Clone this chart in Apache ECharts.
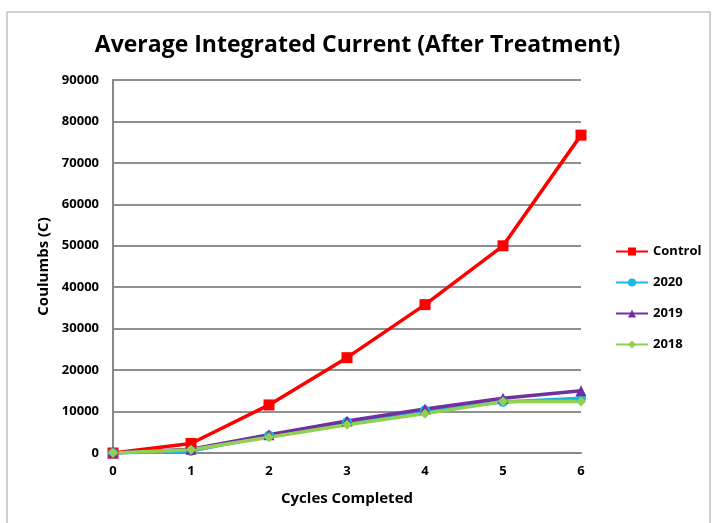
<!DOCTYPE html>
<html>
<head>
<meta charset="utf-8">
<script src="https://cdn.jsdelivr.net/npm/echarts@6/dist/echarts.min.js"></script>
<style>
    html, body { margin: 0; padding: 0; background: #fff; }
    #chart { width: 715px; height: 523px; }
</style>
</head>
<body>
<div id="chart"></div>
<script>
    var cycles = ['0', '1', '2', '3', '4', '5', '6'];
    var control = [0, 2300, 11600, 23000, 35800, 50000, 76700];
    var y2020 = [0, 500, 4200, 7500, 10300, 12300, 13200];
    var y2019 = [0, 900, 4400, 7700, 10600, 13200, 15000];
    var y2018 = [0, 800, 3800, 6800, 9500, 12400, 12400];

    var font = '"Open Sans", sans-serif';

    function line(name, data, color, symbol, size) {
        return {
            name: name,
            type: 'line',
            data: data,
            symbol: symbol,
            symbolSize: size,
            lineStyle: { color: color, width: 3.5 },
            itemStyle: { color: color },
            animation: false
        };
    }

    var chart = echarts.init(document.getElementById('chart'));
    chart.setOption({
        backgroundColor: '#fff',
        graphic: [{
            type: 'rect',
            shape: { x: 7, y: 12, width: 703, height: 520 },
            style: { fill: 'none', stroke: '#a0a0a0', lineWidth: 1 }
        }],
        title: {
            text: 'Average Integrated Current (After Treatment)',
            left: 'center',
            top: 29,
            textStyle: { fontFamily: font, fontSize: 23, fontWeight: 'bold', color: '#000' }
        },
        legend: {
            orient: 'vertical',
            left: 610,
            top: 240,
            itemWidth: 32,
            itemHeight: 10,
            itemGap: 18,
            data: ['Control', '2020', '2019', '2018'],
            textStyle: { fontFamily: font, fontSize: 13, fontWeight: 'bold', color: '#000' }
        },
        grid: { left: 113, right: 134, top: 80, bottom: 70 },
        xAxis: {
            type: 'category',
            data: cycles,
            boundaryGap: false,
            name: 'Cycles Completed',
            nameLocation: 'middle',
            nameGap: 38,
            nameTextStyle: { fontFamily: font, fontSize: 15, fontWeight: 'bold', color: '#000' },
            axisLine: { lineStyle: { color: '#888', width: 2 } },
            axisTick: { show: false },
            axisLabel: { fontFamily: font, fontSize: 13, fontWeight: 'bold', color: '#000', margin: 12 }
        },
        yAxis: {
            type: 'value',
            min: 0,
            max: 90000,
            interval: 10000,
            name: 'Coulumbs (C)',
            nameLocation: 'middle',
            nameGap: 60,
            nameTextStyle: { fontFamily: font, fontSize: 15, fontWeight: 'bold', color: '#000' },
            axisLine: { show: true, lineStyle: { color: '#888', width: 2 } },
            axisTick: { show: false },
            axisLabel: {
                fontFamily: font, fontSize: 13, fontWeight: 'bold', color: '#000', margin: 14,
                formatter: function (v) { return String(v); }
            },
            splitLine: { lineStyle: { color: '#909090', width: 2 } }
        },
        series: [
            line('Control', control, '#ff0000', 'rect', 11),
            line('2020', y2020, '#1eb4e6', 'circle', 10),
            line('2019', y2019, '#7030a0', 'triangle', 11),
            line('2018', y2018, '#92d050', 'diamond', 10)
        ]
    });
</script>
</body>
</html>
